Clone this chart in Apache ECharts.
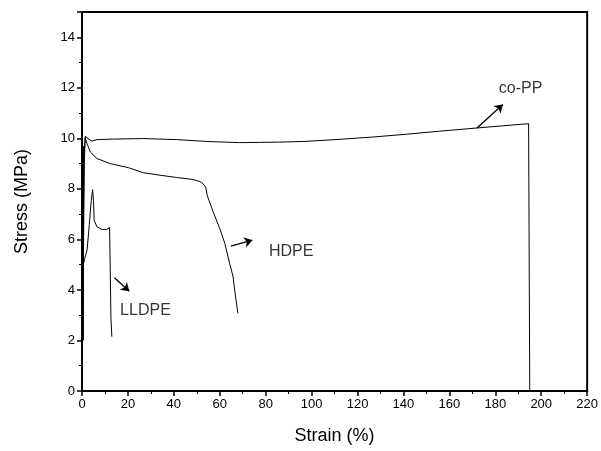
<!DOCTYPE html>
<html>
<head>
<meta charset="utf-8">
<script src="https://cdn.jsdelivr.net/npm/echarts@6/dist/echarts.min.js"></script>
<style>
html,body{margin:0;padding:0;background:#fff;}
#c{width:601px;height:451px;}
</style>
</head>
<body>
<div id="c"></div>
<script>
// Strain (%) and stress (MPa)
const coppStrain = [0, 0.5, 1.0, 1.4, 2.2, 3.2, 4.3, 6.5, 13.8, 26.7, 41.2, 55.7, 68.7, 77.4, 86, 97.5, 112, 126.5, 141, 155.4, 172, 194.5, 195, 195];
const coppStress = [0, 4.0, 9.0, 10.08, 10.05, 9.95, 9.89, 9.95, 9.97, 9.99, 9.95, 9.87, 9.83, 9.84, 9.85, 9.88, 9.96, 10.05, 10.16, 10.28, 10.41, 10.58, 10.6, 0];

const hdpeStrain = [0, 0.3, 0.9, 1.4, 2.2, 3.6, 6.5, 12.3, 20.2, 26.7, 34, 41.2, 48.4, 52.0, 53.9, 54.5, 57.1, 60, 62.2, 64.3, 65.8, 66.5, 67.9];
const hdpeStress = [0, 4.0, 9.3, 10.02, 9.79, 9.46, 9.2, 9.0, 8.84, 8.64, 8.54, 8.45, 8.37, 8.27, 8.07, 7.75, 7.09, 6.43, 5.84, 5.05, 4.52, 3.99, 3.07];

const lldpeStrain = [0, 0.1, 0.3, 1.2, 2.2, 3.2, 3.9, 4.6, 5.0, 5.3, 6.5, 8.7, 10.8, 12.0, 12.3, 12.6, 13.0];
const lldpeStress = [0, 4.39, 4.9, 5.25, 5.57, 6.6, 7.4, 7.97, 7.55, 6.76, 6.5, 6.39, 6.39, 6.47, 4.78, 2.9, 2.15];

// thick initial elastic segment near zero strain
const elasticStrain = [0.3, 0.3];
const elasticStress = [2.0, 9.7];

// annotation labels and arrows (data coordinates)
const labelNames = ['co-PP', 'HDPE', 'LLDPE'];
const labelX = [181.5, 81.4, 16.6];
const labelY = [11.96, 5.53, 3.17];
const arrowFrom = [[172.0, 10.41], [64.8, 5.73], [14.1, 4.48]];
const arrowTo = [[183.3, 11.34], [74.2, 5.97], [20.6, 3.95]];

const xMin = 0, xMax = 220, xInterval = 20;
const yMin = 0, yMax = 15, yInterval = 2;

const zip = (a, b) => a.map((v, i) => [v, b[i]]);
const font = '"Liberation Sans", Arial, sans-serif';

const chart = echarts.init(document.getElementById('c'), null, {renderer: 'canvas'});
const lineStyle = {color: '#000', width: 1};
chart.setOption({
  animation: false,
  backgroundColor: '#fff',
  grid: {left: 82, right: 12, top: 12, bottom: 60, show: true, borderColor: '#000', borderWidth: 2, backgroundColor: 'transparent'},
  xAxis: {
    type: 'value', min: xMin, max: xMax, interval: xInterval,
    name: 'Strain (%)', nameLocation: 'middle', nameGap: 36,
    nameTextStyle: {fontFamily: font, fontSize: 18, color: '#000'},
    axisLine: {show: true, onZero: false, lineStyle: {color: '#000', width: 2}},
    axisTick: {show: true, length: 5, lineStyle: {color: '#000', width: 1.5}},
    minorTick: {show: true, splitNumber: 2, length: 3, lineStyle: {color: '#000', width: 1}},
    axisLabel: {fontFamily: font, fontSize: 13, color: '#000', margin: 7},
    splitLine: {show: false}
  },
  yAxis: {
    type: 'value', min: yMin, max: yMax, interval: yInterval,
    name: 'Stress (MPa)', nameLocation: 'middle', nameGap: 51, nameRotate: 90,
    nameTextStyle: {fontFamily: font, fontSize: 18, color: '#000'},
    axisLine: {show: true, onZero: false, lineStyle: {color: '#000', width: 2}},
    axisTick: {show: true, length: 5, lineStyle: {color: '#000', width: 1.5}},
    minorTick: {show: true, splitNumber: 2, length: 3, lineStyle: {color: '#000', width: 1}},
    axisLabel: {fontFamily: font, fontSize: 13, color: '#000', margin: 7, showMaxLabel: false},
    splitLine: {show: false}
  },
  series: [
    {type: 'line', name: 'elastic', data: zip(elasticStrain, elasticStress), showSymbol: false, symbol: 'none', lineStyle: {color: '#000', width: 2.5}},
    {type: 'line', name: 'co-PP', data: zip(coppStrain, coppStress), showSymbol: false, symbol: 'none', lineStyle: lineStyle},
    {type: 'line', name: 'HDPE', data: zip(hdpeStrain, hdpeStress), showSymbol: false, symbol: 'none', lineStyle: lineStyle},
    {type: 'line', name: 'LLDPE', data: zip(lldpeStrain, lldpeStress), showSymbol: false, symbol: 'none', lineStyle: lineStyle,
      markLine: {
        silent: true, symbol: ['none', 'arrow'], symbolSize: 8,
        label: {show: false},
        emphasis: {disabled: true},
        lineStyle: {color: '#000', width: 1.3, type: 'solid'},
        data: arrowFrom.map((f, i) => [{coord: f}, {coord: arrowTo[i]}])
      }
    },
    {type: 'scatter', symbolSize: 0, silent: true,
      data: labelNames.map((n, i) => ({value: [labelX[i], labelY[i]], name: n})),
      label: {show: true, position: 'right', distance: 0, formatter: p => p.name,
        fontFamily: font, fontSize: 16, color: '#000'}
    }
  ]
});
</script>
</body>
</html>
